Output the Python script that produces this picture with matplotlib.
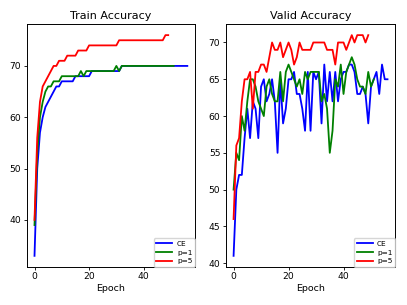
import matplotlib
matplotlib.use('Agg')
import matplotlib.pyplot as plt

# Train accuracy per epoch
train_ce = [33, 50, 57, 60, 62, 63, 64, 65, 66, 66,
            67, 67, 67, 67, 67, 68, 68, 68, 68, 68,
            68, 69, 69, 69, 69, 69, 69, 69, 69, 69,
            69, 69, 70, 70, 70, 70, 70, 70, 70, 70,
            70, 70, 70, 70, 70, 70, 70, 70, 70, 70,
            70, 70, 70, 70, 70, 70, 70]
train_p1 = [39, 53, 60, 63, 65, 66, 66, 67, 67, 67,
            68, 68, 68, 68, 68, 68, 68, 69, 68, 69,
            69, 69, 69, 69, 69, 69, 69, 69, 69, 69,
            70, 69, 70, 70, 70, 70, 70, 70, 70, 70,
            70, 70, 70, 70, 70, 70, 70, 70, 70, 70,
            70, 70]
train_p5 = [40, 56, 63, 66, 67, 68, 69, 70, 70, 71,
            71, 71, 72, 72, 72, 72, 73, 73, 73, 73,
            74, 74, 74, 74, 74, 74, 74, 74, 74, 74,
            74, 75, 75, 75, 75, 75, 75, 75, 75, 75,
            75, 75, 75, 75, 75, 75, 75, 75, 76, 76]

# Valid accuracy per epoch
valid_ce = [41, 50, 52, 52, 57, 61, 57, 62, 61, 57,
            64, 65, 62, 63, 65, 62, 55, 65, 59, 61,
            65, 65, 66, 63, 63, 61, 58, 66, 58, 66,
            65, 66, 59, 67, 62, 66, 62, 66, 62, 65,
            66, 66, 67, 67, 66, 63, 63, 64, 63, 59,
            64, 65, 66, 63, 67, 65, 65]
valid_p1 = [50, 55, 54, 60, 58, 62, 65, 65, 64, 62,
            61, 60, 64, 65, 63, 62, 62, 66, 62, 66,
            67, 66, 65, 64, 65, 63, 66, 65, 66, 66,
            66, 66, 62, 63, 61, 55, 58, 65, 64, 67,
            63, 66, 67, 68, 67, 65, 64, 64, 63, 66,
            64, 65]
valid_p5 = [46, 56, 57, 62, 65, 65, 66, 61, 66, 66,
            67, 67, 66, 68, 70, 69, 69, 70, 68, 69,
            70, 69, 67, 68, 70, 69, 69, 69, 69, 70,
            70, 70, 70, 70, 69, 69, 69, 67, 70, 70,
            70, 69, 70, 71, 70, 71, 71, 71, 70, 71]

labels = ['CE', 'p=1', 'p=5']
colors = ['blue', 'green', 'red']

fig = plt.figure(figsize=(4.07, 3.05), dpi=100)
ax1 = fig.add_axes([0.066, 0.125, 0.413, 0.796])
ax2 = fig.add_axes([0.555, 0.125, 0.416, 0.796])

paineis = [
    (ax1, 'Train Accuracy', [train_ce, train_p1, train_p5]),
    (ax2, 'Valid Accuracy', [valid_ce, valid_p1, valid_p5]),
]

for ax, titulo, series in paineis:
    for serie, label, cor in zip(series, labels, colors):
        ax.plot(range(len(serie)), serie, color=cor, label=label, linewidth=1.3)
    ax.set_title(titulo, fontsize=8, pad=3.5)
    ax.set_xlabel('Epoch', fontsize=6.8, labelpad=2)
    ax.set_xticks([0, 20, 40])
    ax.tick_params(labelsize=6.6, length=2.5, width=0.6, pad=1.5)
    for spine in ax.spines.values():
        spine.set_linewidth(0.7)
    ax.legend(loc='lower right', fontsize=5.3, borderaxespad=0,
              handlelength=2.2, labelspacing=0.35, borderpad=0.35,
              handletextpad=0.6, framealpha=0.8)

ax1.set_yticks([40, 50, 60, 70])
ax2.set_yticks([40, 45, 50, 55, 60, 65, 70])

plt.savefig('out.png', dpi=100)
